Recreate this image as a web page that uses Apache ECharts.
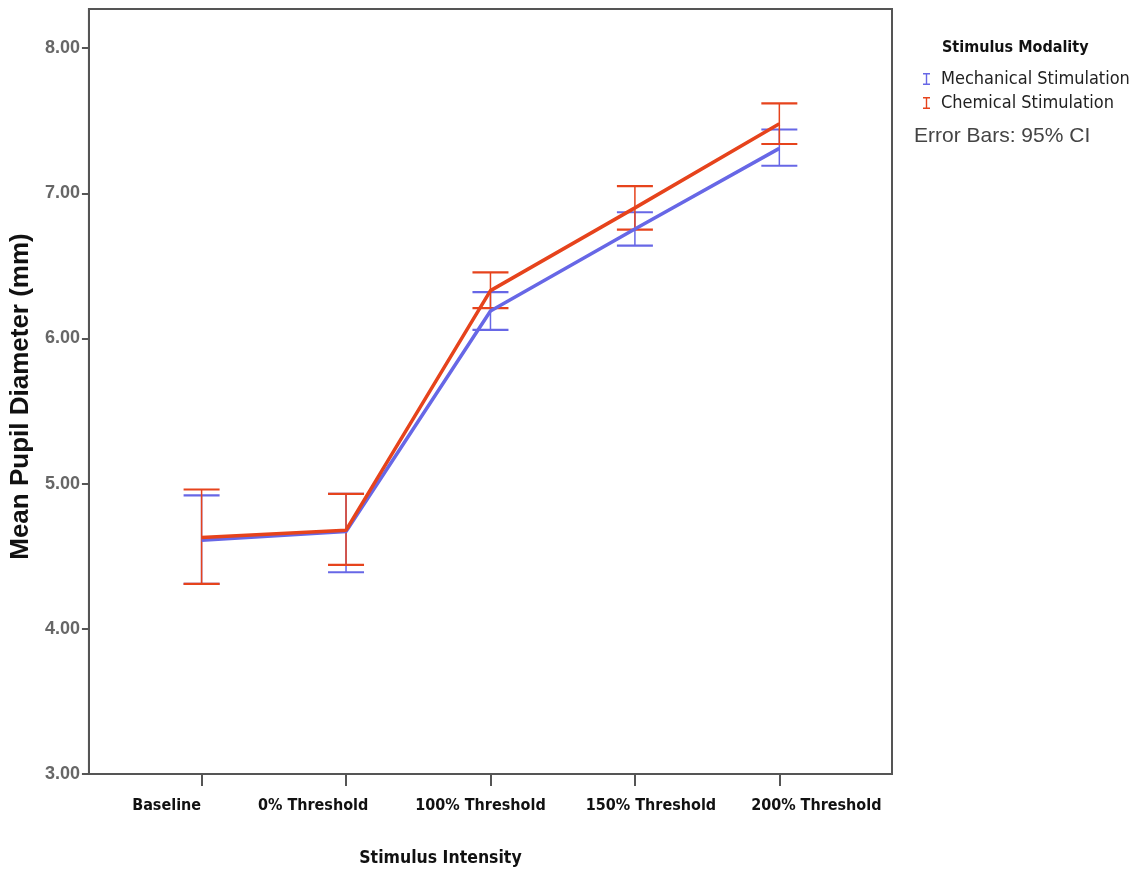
<!DOCTYPE html>
<html>
<head>
<meta charset="utf-8">
<script src="https://cdn.jsdelivr.net/npm/echarts@6/dist/echarts.min.js"></script>
<style>
html,body{margin:0;padding:0;background:#fff;}
#chart{width:1145px;height:873px;}
</style>
</head>
<body>
<div id="chart"></div>
<script>
const categories = ['Baseline', '0% Threshold', '100% Threshold', '150% Threshold', '200% Threshold'];
const yTicks = [3, 4, 5, 6, 7, 8];

const mechMean  = [4.61, 4.67, 6.19, 6.755, 7.31];
const mechLower = [4.31, 4.39, 6.06, 6.64, 7.19];
const mechUpper = [4.92, 4.93, 6.32, 6.87, 7.44];

const chemMean  = [4.63, 4.68, 6.33, 6.90, 7.48];
const chemLower = [4.31, 4.44, 6.21, 6.75, 7.34];
const chemUpper = [4.96, 4.93, 6.455, 7.05, 7.62];

const BLUE = '#6767e6';
const RED = '#e6431c';

// category tick positions on the x value axis, and where the reference draws each label
const tickPos = categories.map((c, i) => i + 1);
const labelShift = [-0.242, -0.228, -0.069, 0.111, 0.256];
const labelPos = tickPos.map((p, i) => p + labelShift[i]);

function pts(arr) { return arr.map((v, i) => [i + 1, v]); }
function errData(lo, hi) { return lo.map((v, i) => [i + 1, v, hi[i]]); }

function errRender(color) {
  return function (params, api) {
    const x = api.value(0);
    const lo = api.coord([x, api.value(1)]);
    const hi = api.coord([x, api.value(2)]);
    const hw = 18;
    return {
      type: 'group',
      children: [
        { type: 'line', shape: { x1: lo[0], y1: lo[1], x2: hi[0], y2: hi[1] }, style: { stroke: color, lineWidth: 1.5 } },
        { type: 'line', shape: { x1: lo[0] - hw, y1: lo[1], x2: lo[0] + hw, y2: lo[1] }, style: { stroke: color, lineWidth: 2.2 } },
        { type: 'line', shape: { x1: hi[0] - hw, y1: hi[1], x2: hi[0] + hw, y2: hi[1] }, style: { stroke: color, lineWidth: 2.2 } }
      ]
    };
  };
}

const ibeam = 'path://M0,0H7V1.4H4.2V10.6H7V12H0V10.6H2.8V1.4H0Z';

const chart = echarts.init(document.getElementById('chart'), null, { renderer: 'canvas' });
chart.setOption({
  backgroundColor: '#fff',
  animation: false,
  grid: {
    left: 88, right: 253, top: 9, bottom: 99,
    show: true, borderColor: '#555', borderWidth: 2, backgroundColor: '#fff'
  },
  xAxis: {
    type: 'value',
    min: 0.22, max: 5.78,
    splitLine: { show: false },
    axisLine: { show: true, onZero: false, lineStyle: { color: '#555', width: 2 } },
    axisTick: { show: true, customValues: tickPos, length: 12, lineStyle: { color: '#555', width: 2 } },
    axisLabel: {
      customValues: labelPos,
      formatter: v => {
        let best = 0;
        labelPos.forEach((p, i) => { if (Math.abs(p - v) < Math.abs(labelPos[best] - v)) best = i; });
        return categories[best];
      },
      margin: 24,
      fontFamily: 'DejaVu Sans Condensed', fontWeight: 'bold', fontSize: 16, color: '#111'
    },
    name: 'Stimulus Intensity',
    nameLocation: 'middle',
    nameGap: 75,
    nameTextStyle: { fontFamily: 'DejaVu Sans Condensed', fontWeight: 'bold', fontSize: 17.5, color: '#111', padding: [0, 100, 0, 0] }
  },
  yAxis: {
    type: 'value',
    min: 3, max: 8.27,
    splitLine: { show: false },
    axisLine: { show: true, lineStyle: { color: '#555', width: 2 } },
    axisTick: { show: true, customValues: yTicks, length: 7, lineStyle: { color: '#555', width: 2 } },
    axisLabel: {
      customValues: yTicks,
      formatter: v => v.toFixed(2),
      margin: 9,
      fontFamily: 'Liberation Sans', fontWeight: 'bold', fontSize: 18, color: '#666'
    },
    name: 'Mean Pupil Diameter (mm)',
    nameLocation: 'middle',
    nameRotate: 90,
    nameGap: 54,
    nameTextStyle: { fontFamily: 'Liberation Sans', fontWeight: 'bold', fontSize: 26, color: '#111', padding: [0, 10, 0, 0] }
  },
  legend: {
    orient: 'vertical',
    left: 918, top: 65,
    itemWidth: 7, itemHeight: 12, itemGap: 6,
    textStyle: { fontFamily: 'DejaVu Sans Condensed', fontSize: 18, color: '#222', padding: [0, 0, 0, 6] },
    data: [
      { name: 'Mechanical Stimulation', icon: ibeam, itemStyle: { color: BLUE } },
      { name: 'Chemical Stimulation', icon: ibeam, itemStyle: { color: RED } }
    ]
  },
  graphic: [
    { type: 'text', left: 942, top: 40, style: { text: 'Stimulus Modality', font: 'bold 16px "DejaVu Sans Condensed"', fill: '#111' } },
    { type: 'text', left: 914, top: 126, style: { text: 'Error Bars: 95% CI', font: '21px "Liberation Sans Narrow", "Liberation Sans"', fill: '#444' } }
  ],
  series: [
    { type: 'custom', name: 'Mechanical Stimulation', renderItem: errRender(BLUE), data: errData(mechLower, mechUpper), z: 3, silent: true },
    { type: 'custom', name: 'Chemical Stimulation', renderItem: errRender(RED), data: errData(chemLower, chemUpper), z: 3, silent: true },
    { type: 'line', name: 'Mechanical Stimulation', data: pts(mechMean), symbol: 'none', lineStyle: { color: BLUE, width: 3.5 }, itemStyle: { color: BLUE }, z: 4 },
    { type: 'line', name: 'Chemical Stimulation', data: pts(chemMean), symbol: 'none', lineStyle: { color: RED, width: 3.5 }, itemStyle: { color: RED }, z: 5 }
  ]
});
</script>
</body>
</html>
